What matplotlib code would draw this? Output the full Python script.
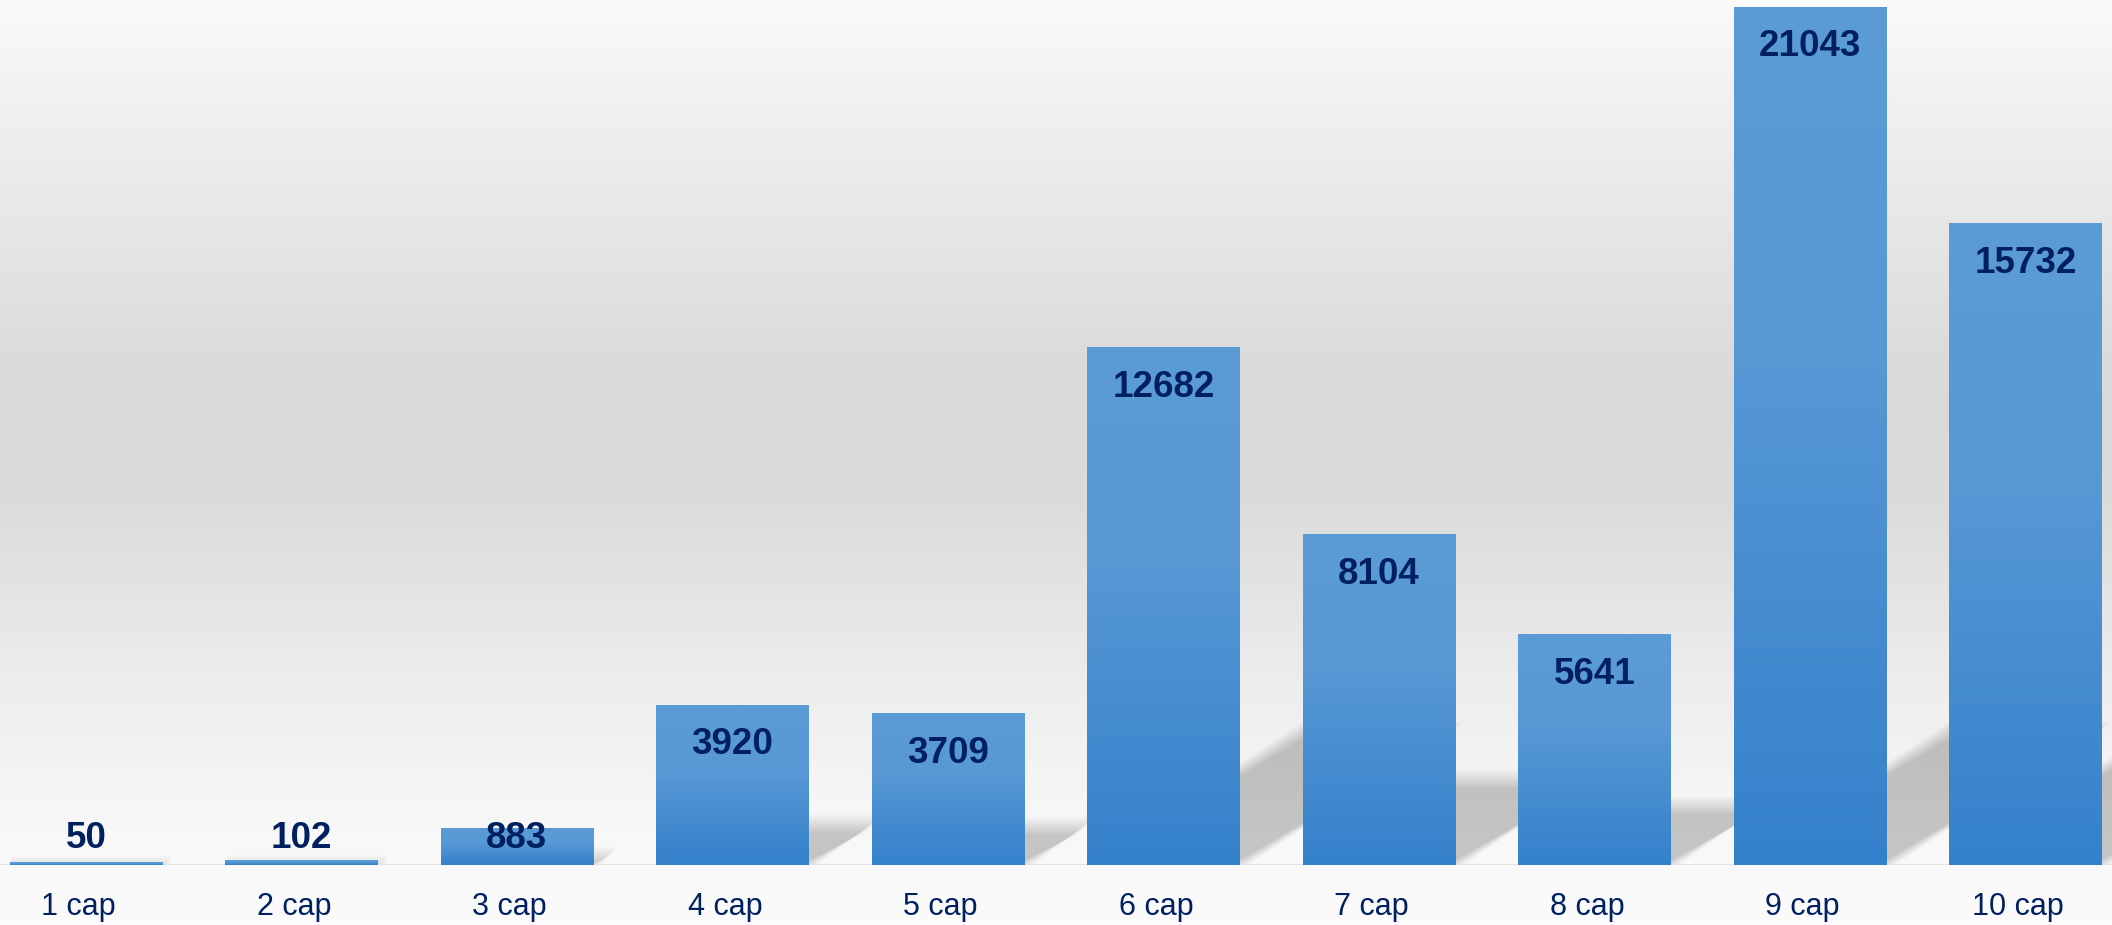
import numpy as np
import matplotlib.pyplot as plt
from matplotlib.colors import LinearSegmentedColormap
from matplotlib.patches import Polygon

plt.rcParams['font.family'] = ['Liberation Sans', 'DejaVu Sans']

categories = ['1 cap', '2 cap', '3 cap', '4 cap', '5 cap',
              '6 cap', '7 cap', '8 cap', '9 cap', '10 cap']
values = [50, 102, 883, 3920, 3709, 12682, 8104, 5641, 21043, 15732]

W, H = 2112, 925
fig = plt.figure(figsize=(W / 100, H / 100), dpi=100)

# background gradient (white - grey - white)
bg = fig.add_axes([0, 0, 1, 1])
bg_cmap = LinearSegmentedColormap.from_list('bg', [
    (0.0, '#fafafa'), (0.12, '#f0f0f0'), (0.42, '#d9d9d9'),
    (0.55, '#dcdcdc'), (0.75, '#eeeeee'), (0.90, '#f8f8f8'), (1.0, '#fbfbfb')])
bg.imshow(np.linspace(0, 1, 256).reshape(-1, 1), aspect='auto', cmap=bg_cmap,
          extent=[0, 1, 0, 1], origin='upper')
bg.axis('off')

base_px = 60
ax = fig.add_axes([0, base_px / H, 1, (H - base_px) / H])
ax.patch.set_alpha(0)
slot = 215.5
x0 = 86
xlim = (-x0 / slot, (W - x0) / slot)
ylim = (0, 21215)
ax.set_xlim(*xlim)
ax.set_ylim(*ylim)
px_y = ylim[1] / (H - base_px)
px_x = 1 / slot

x = np.arange(len(values))
width = 0.706

# soft shadows behind bars
for xi, v in zip(x, values):
    hpx = v / px_y
    sh_px = min(0.26 * hpx, 135)
    sh = sh_px * px_y
    dx = 1.6 * sh_px * px_x
    xl, xr = xi - width / 2, xi + width / 2
    for d in np.linspace(-9, 9, 13):
        dd = d * px_x
        top = max(sh + d * px_y, 0)
        poly = Polygon([(xl, 0), (xr + dd, 0),
                        (xr + dx + dd, top), (xl + dx, top)],
                       closed=True, facecolor='black', edgecolor='none',
                       alpha=0.015, zorder=1)
        ax.add_patch(poly)

# bars with vertical gradient
bar_cmap = LinearSegmentedColormap.from_list('bar', [
    (0.0, '#3481cb'), (0.6, '#5898d5'), (1.0, '#5b9bd5')])
bars = ax.bar(x, values, width=width, color='none', zorder=2)
grad = np.linspace(0, 1, 256).reshape(-1, 1)
for b in bars:
    bx, by = b.get_x(), b.get_y()
    bw, bh = b.get_width(), b.get_height()
    ax.imshow(grad, aspect='auto', cmap=bar_cmap, origin='lower',
              extent=[bx, bx + bw, by, by + bh], zorder=3, interpolation='bilinear')
ax.set_xlim(*xlim)
ax.set_ylim(*ylim)

# value labels
for xi, v in zip(x, values):
    ty = max(v - 49 * px_y, 17 * px_y)
    ax.text(xi, ty, str(v), ha='center', va='baseline', fontsize=26.5,
            fontweight='bold', color='#002060', zorder=5)

# category labels
for xi, c in zip(x, categories):
    ax.text(xi - 0.035, -50 * px_y, c, ha='center', va='baseline', fontsize=22,
            color='#002060', zorder=5, clip_on=False)

ax.axhline(0, color='#e4e4e4', lw=1.5, zorder=2)
ax.axis('off')

fig.savefig('out.png', dpi=100)
